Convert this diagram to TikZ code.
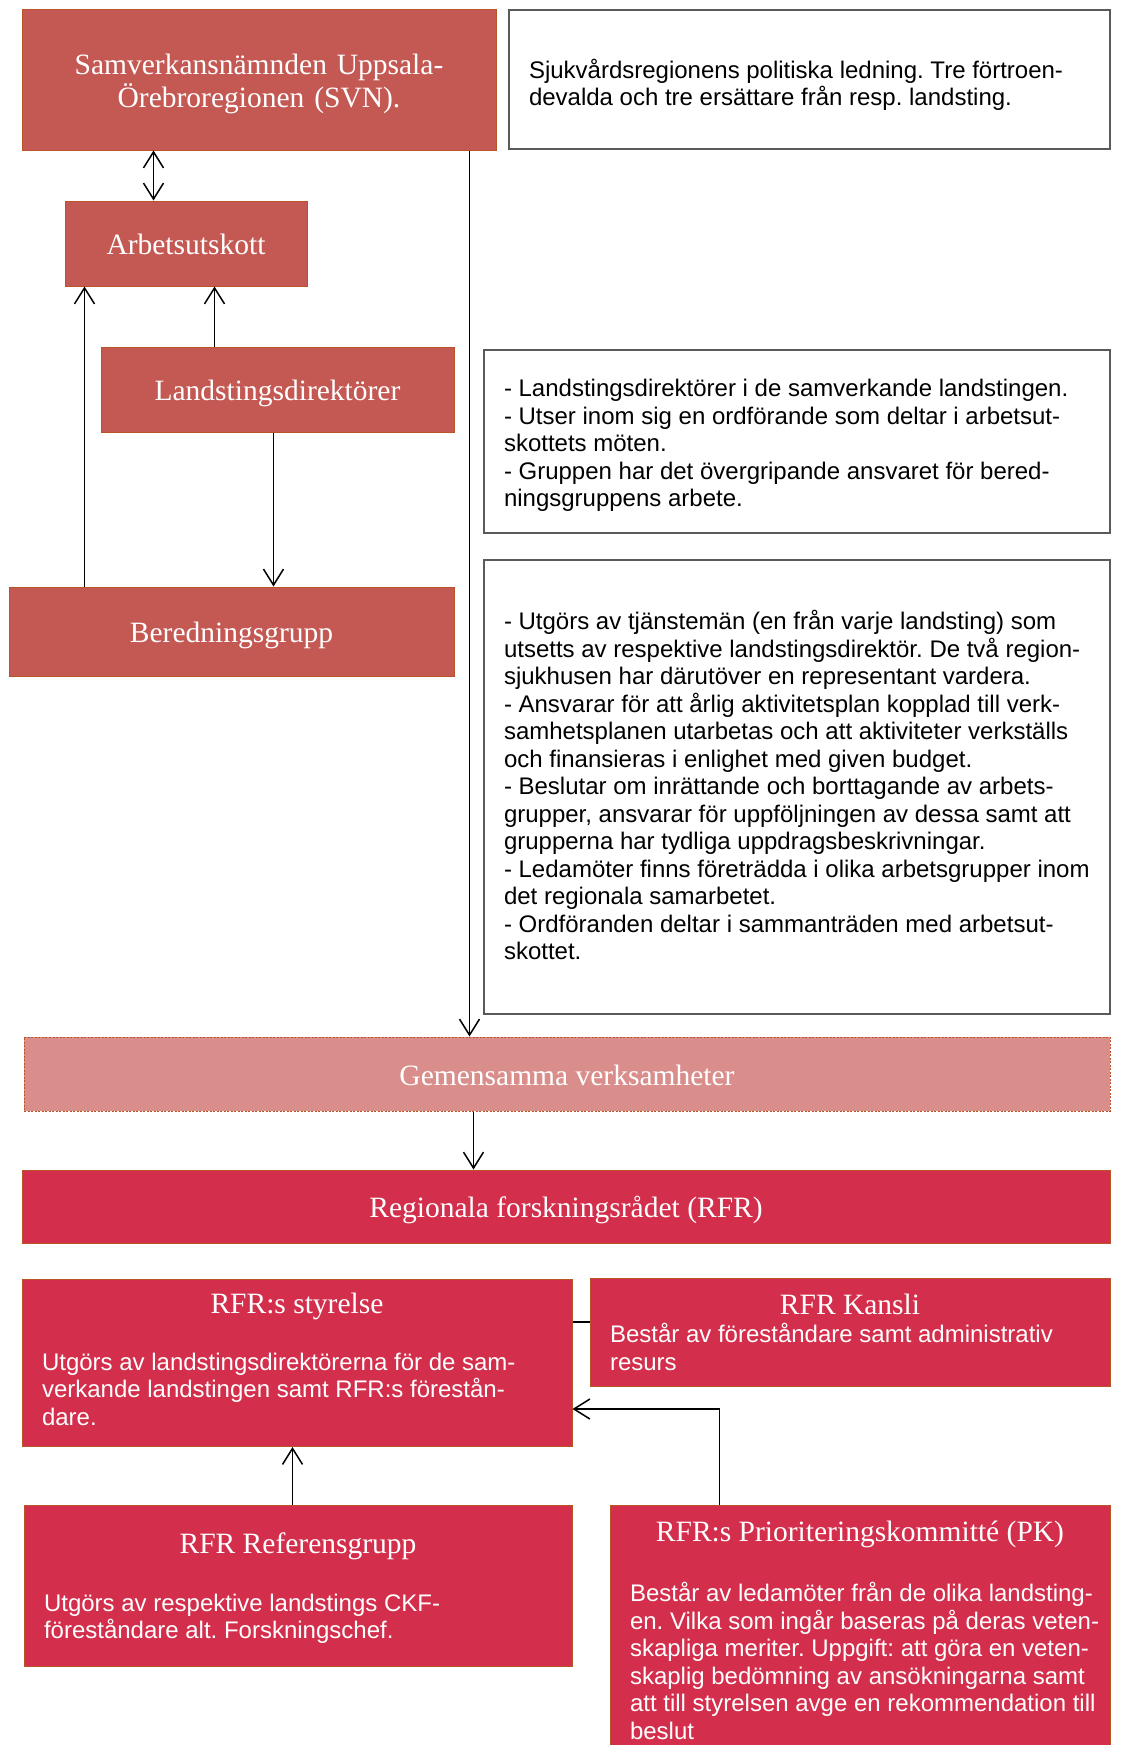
\documentclass[tikz,border=0pt]{standalone}
\usepackage{fontspec}
\setmainfont{Liberation Serif}
\setsansfont{Liberation Sans}
\frenchspacing
\usetikzlibrary{arrows.meta}

\definecolor{upred}{RGB}{196,89,84}
\definecolor{gemrose}{RGB}{217,142,140}
\definecolor{rfrred}{RGB}{211,46,76}
\definecolor{edgebrown}{RGB}{186,84,40}
\definecolor{notegray}{RGB}{90,90,90}
\newcommand{\hdfont}{\rmfamily\fontsize{29.5}{32.5}\selectfont}
\newcommand{\bdfont}{\sffamily\fontsize{24}{27.5}\selectfont}

\begin{document}
\begin{tikzpicture}[x=1pt, y=-1pt, >={Straight Barb[length=16pt,width=20pt]},
  upbox/.style={draw=edgebrown, line width=1pt, fill=upred, text=white, font=\hdfont, align=center, inner sep=0pt},
  oneline/.style={text height=22pt, text depth=0pt},
  gembox/.style={upbox, oneline, fill=gemrose, dash pattern=on 2pt off 1.5pt},
  rfrhead/.style={upbox, oneline, fill=rfrred},
  notebox/.style={draw=notegray, line width=1.2pt, fill=white, font=\bdfont, align=flush left, inner xsep=20pt, inner ysep=0pt},
  rfrbox/.style={draw=edgebrown, line width=1pt, fill=rfrred, text=white, font=\bdfont, align=flush left, inner xsep=20pt, inner ysep=0pt},
  link/.style={line width=1.5pt}]
  \useasboundingbox (0,0) rectangle (1122,1745);

  % Politisk nivå
  \node[upbox, text width=474pt, minimum height=140pt, text depth=31pt] (svn) at (259,80) {Samverkansnämnden Uppsala-\\Örebroregionen (SVN).};
  \node[notebox, text width=561pt, minimum height=139pt, text depth=22pt] (svnnote) at (809.5,79.5)
    {\begin{tabular}[t]{@{}l@{}}Sjukvårdsregionens politiska ledning. Tre förtroen-\\devalda och tre ersättare från resp. landsting.\end{tabular}};
  \node[upbox, oneline, minimum width=242pt, minimum height=85pt] (au) at (186,243.5) {Arbetsutskott};

  % Tjänstemannanivå
  \node[upbox, oneline, minimum width=353pt, minimum height=85pt] (ld) at (277.5,389.5) {Landstingsdirektörer};
  \node[notebox, text width=586pt, minimum height=183pt, text depth=109pt] (ldnote) at (797,441.5)
    {\begin{tabular}[t]{@{}l@{}}- Landstingsdirektörer i de samverkande landstingen.\\
      - Utser inom sig en ordförande som deltar i arbetsut-\\
      skottets möten.\\
      - Gruppen har det övergripande ansvaret för bered-\\
      ningsgruppens arbete.\end{tabular}};
  \node[upbox, oneline, minimum width=445pt, minimum height=89pt] (bg) at (231.5,631.5) {Beredningsgrupp};
  \node[notebox, text width=586pt, minimum height=454pt, text depth=334pt] (bgnote) at (797,787)
    {\begin{tabular}[t]{@{}l@{}}- Utgörs av tjänstemän (en från varje landsting) som\\
      utsetts av respektive landstingsdirektör. De två region-\\
      sjukhusen har därutöver en representant vardera.\\
      - Ansvarar för att årlig aktivitetsplan kopplad till verk-\\
      samhetsplanen utarbetas och att aktiviteter verkställs\\
      och finansieras i enlighet med given budget.\\
      - Beslutar om inrättande och borttagande av arbets-\\
      grupper, ansvarar för uppföljningen av dessa samt att\\
      grupperna har tydliga uppdragsbeskrivningar.\\
      - Ledamöter finns företrädda i olika arbetsgrupper inom\\
      det regionala samarbetet.\\
      - Ordföranden deltar i sammanträden med arbetsut-\\
      skottet.\end{tabular}};

  % Gemensamma verksamheter och RFR
  \node[gembox, minimum width=1086pt, minimum height=74pt] (gem) at (567,1074) {Gemensamma verksamheter};
  \node[rfrhead, minimum width=1088pt, minimum height=73pt] (rfr) at (566,1206.5) {Regionala forskningsrådet (RFR)};
  \node[rfrbox, text width=510pt, minimum height=167pt] (sty) at (297,1363)
    {{\centering\hdfont RFR:s styrelse\par}\vspace{29.5pt}
     \begin{tabular}[t]{@{}l@{}}Utgörs av landstingsdirektörerna för de sam-\\
      verkande landstingen samt RFR:s förestån-\\dare.\end{tabular}};
  \node[rfrbox, text width=480pt, minimum height=108pt, text depth=54.75pt] (kansli) at (850,1332)
    {{\centering\hdfont RFR Kansli\par}\vspace{0.5pt}
     \begin{tabular}[t]{@{}l@{}}Består av föreståndare samt administrativ\\resurs\end{tabular}};
  \node[rfrbox, text width=508pt, minimum height=161pt, text depth=85.75pt] (ref) at (298,1585.5)
    {{\centering\hdfont RFR Referensgrupp\par}\vspace{30.5pt}
     \begin{tabular}[t]{@{}l@{}}Utgörs av respektive landstings CKF-\\föreståndare alt. Forskningschef.\end{tabular}};
  \node[rfrbox, text width=460pt, minimum height=259pt] (pk) at (860,1634.5)
    {{\centering\hdfont RFR:s Prioriteringskommitté (PK)\par}\vspace{32.5pt}
     \begin{tabular}[t]{@{}l@{}}Består av ledamöter från de olika landsting-\\
      en. Vilka som ingår baseras på deras veten-\\
      skapliga meriter. Uppgift: att göra en veten-\\
      skaplig bedömning av ansökningarna samt\\
      att till styrelsen avge en rekommendation till\\
      beslut\end{tabular}};

  % Kopplingar
  \draw[link, <->] ([xshift=89pt]au.north west |- svn.south) -- ([xshift=89pt]au.north west);
  \draw[link, ->] ([xshift=76pt]bg.north west) -- ([xshift=76pt]bg.north west |- au.south);
  \draw[link, ->] ([xshift=114pt]ld.north west) -- ([xshift=114pt]ld.north west |- au.south);
  \draw[link, ->] ([xshift=173pt]ld.south west) -- ([xshift=173pt]ld.south west |- bg.north);
  \draw[link, ->] ([xshift=-27pt]svn.south east) -- ([xshift=-27pt]svn.south east |- gem.north);
  \draw[link, ->] ([xshift=450pt]gem.south west) -- ([xshift=450pt]gem.south west |- rfr.north);
  \draw[link] ([yshift=10pt]kansli.west) -- ([yshift=10pt]kansli.west -| sty.east);
  \draw[link, ->] ([xshift=110pt]pk.north west) |- ([yshift=-46pt]sty.east);
  \draw[link, ->] ([xshift=269pt]ref.north west) -- ([xshift=269pt]ref.north west |- sty.south);
\end{tikzpicture}
\end{document}
